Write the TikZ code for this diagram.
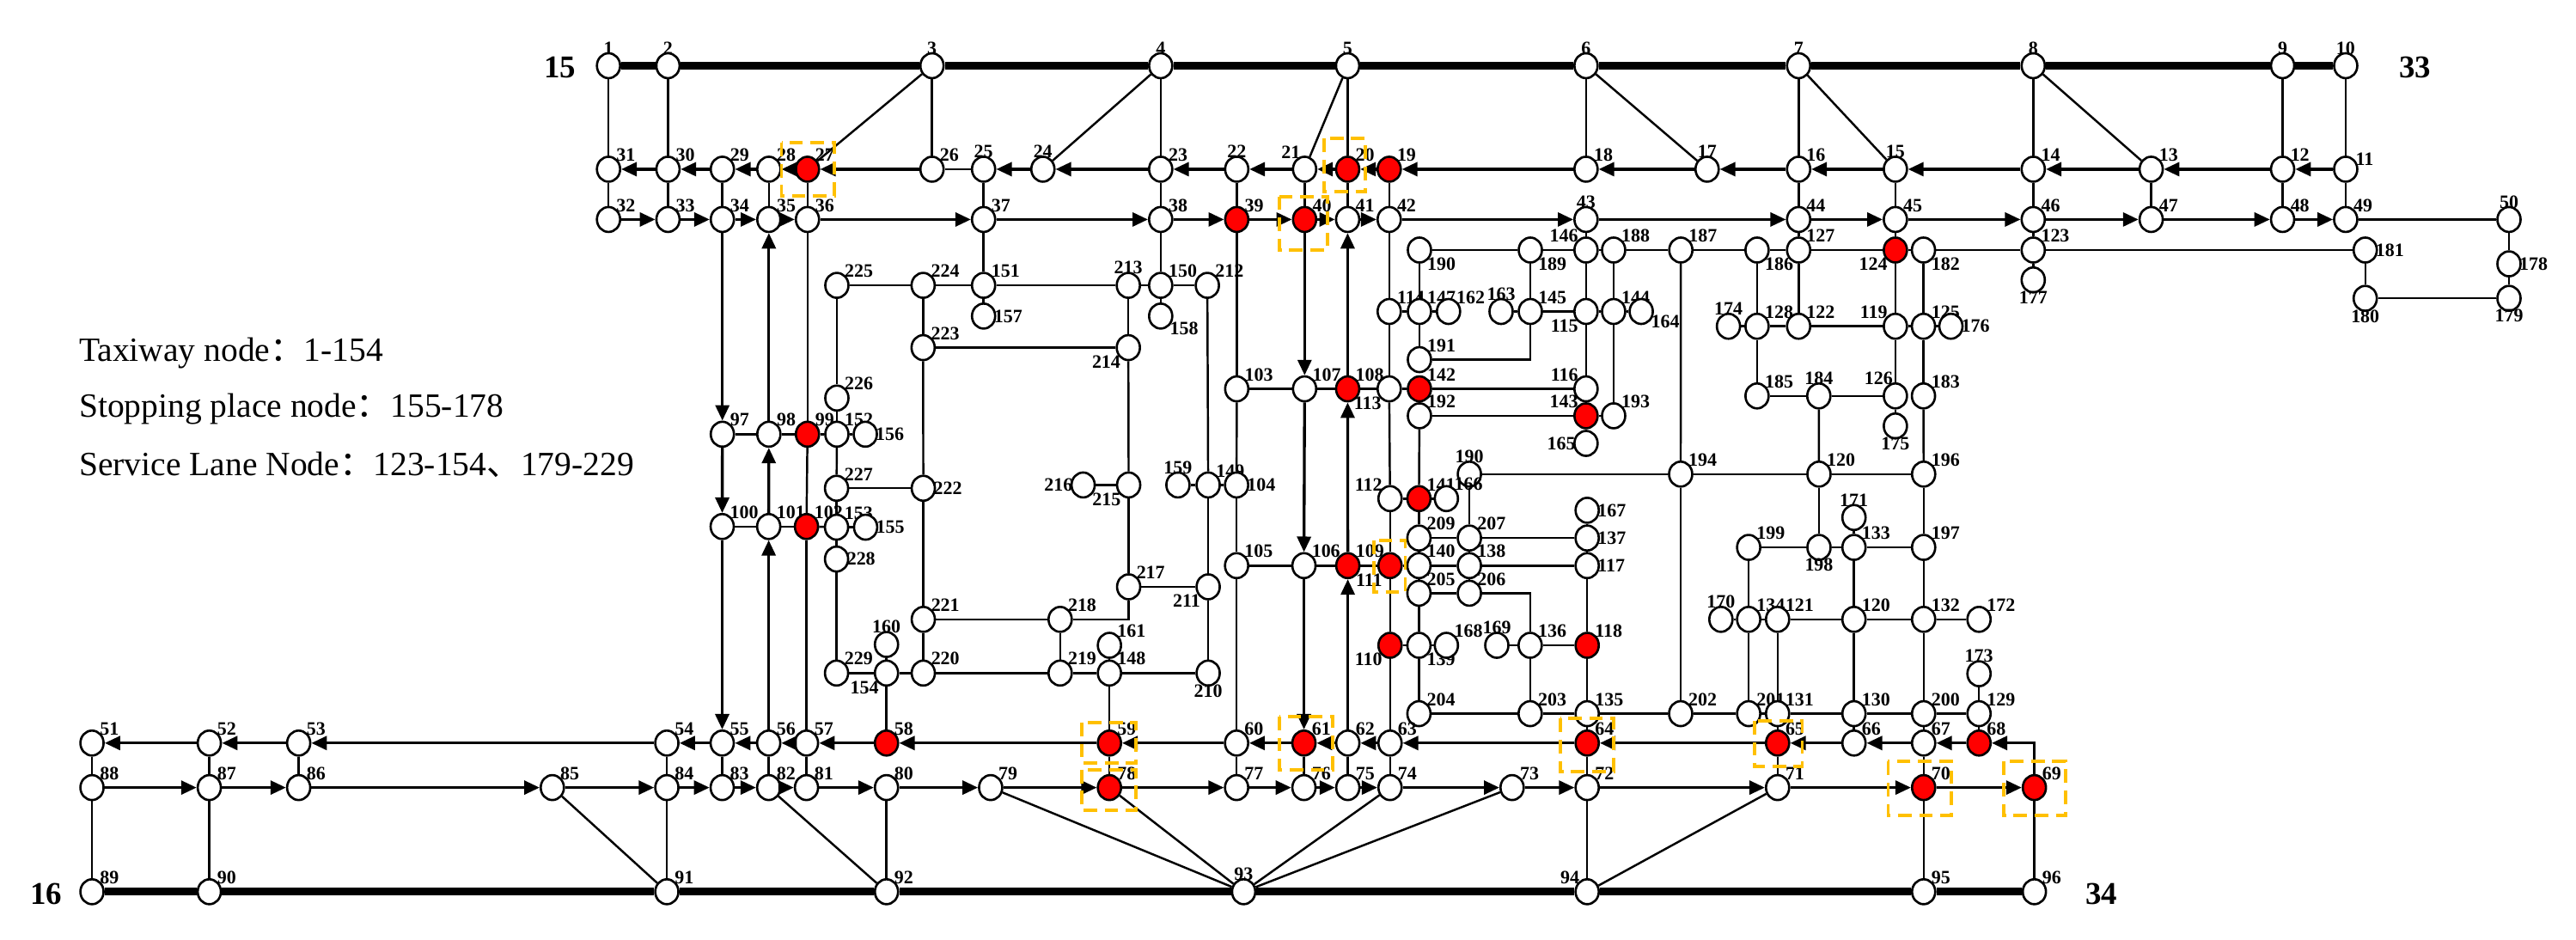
\documentclass[tikz,border=0pt]{standalone}
\usepackage{fontspec}
\setmainfont{Liberation Serif}
\newfontfamily\cjk{Noto Sans CJK SC}
\usetikzlibrary{shapes.geometric,arrows.meta}
\definecolor{boxc}{RGB}{255,192,0}
\begin{document}
\begin{tikzpicture}[x=0.038236cm,y=-0.038236cm,
 w/.style={ellipse,draw,line width=1.5pt,fill=white,minimum width=0.54cm,minimum height=0.58cm,inner sep=0pt},
 r/.style={w,fill=red},
 lb/.style={font=\bfseries\fontsize{12.5}{12.5}\selectfont,inner sep=0.3pt,label distance=-2pt},
 l/.style={line width=1.4pt},
 a/.style={line width=1.9pt,-{Triangle[length=0.36cm,width=0.32cm]}},
 rw/.style={line width=5pt},
 bx/.style={draw=boxc,line width=2.2pt,dash pattern=on 9pt off 5pt},
 big/.style={font=\bfseries\fontsize{21}{21}\selectfont},
 leg/.style={font=\fontsize{22.5}{22.5}\selectfont,anchor=west,inner sep=0pt}]
\useasboundingbox (0,0) rectangle (1568,572);
\newcommand\nd[6]{\node[#6,label={[lb]#5:#2}] (n#1) at (#3,#4) {};}
% top row
\nd{1}{1}{370.4}{40}{90}{w}\nd{2}{2}{406.6}{40}{90}{w}\nd{3}{3}{567.3}{40}{90}{w}\nd{4}{4}{706.5}{40}{90}{w}\nd{5}{5}{820.3}{40}{90}{w}
\nd{6}{6}{965.4}{40}{90}{w}\nd{7}{7}{1094.8}{40}{90}{w}\nd{8}{8}{1237.6}{40}{90}{w}\nd{9}{9}{1389.4}{40}{90}{w}\nd{10}{10}{1427.8}{40}{90}{w}
% row A
\nd{31}{31}{370.4}{103}{45}{w}\nd{30}{30}{406.6}{103}{45}{w}\nd{29}{29}{439.7}{103}{45}{w}\nd{28}{28}{468}{103}{45}{w}\nd{27}{27}{491.5}{103}{45}{r}
\nd{26}{26}{567.3}{103}{45}{w}\nd{25}{25}{598.7}{103}{90}{w}\nd{24}{24}{634.8}{103}{90}{w}\nd{23}{23}{706.5}{103}{45}{w}\nd{22}{22}{752.8}{103}{90}{w}
\nd{21}{21}{794.1}{103}{110}{w}\nd{20}{20}{820.3}{103}{45}{r}\nd{19}{19}{845.6}{103}{45}{r}\nd{18}{18}{965.4}{103}{45}{w}\nd{17}{17}{1039.1}{103}{90}{w}
\nd{16}{16}{1094.8}{103}{45}{w}\nd{15}{15}{1153.7}{103}{90}{w}\nd{14}{14}{1237.6}{103}{45}{w}\nd{13}{13}{1309.4}{103}{45}{w}\nd{12}{12}{1389.4}{103}{45}{w}\nd{11}{11}{1427.8}{103}{20}{w}
% row B
\nd{32}{32}{370.4}{133.6}{45}{w}\nd{33}{33}{406.6}{133.6}{45}{w}\nd{34}{34}{439.7}{133.6}{45}{w}\nd{35}{35}{468}{133.6}{45}{w}\nd{36}{36}{491.5}{133.6}{45}{w}
\nd{37}{37}{598.7}{133.6}{45}{w}\nd{38}{38}{706.5}{133.6}{45}{w}\nd{39}{39}{752.8}{133.6}{45}{r}\nd{40}{40}{794.1}{133.6}{45}{r}\nd{41}{41}{820.3}{133.6}{45}{w}
\nd{42}{42}{845.6}{133.6}{45}{w}\nd{43}{43}{965.4}{133.6}{90}{w}\nd{44}{44}{1094.8}{133.6}{45}{w}\nd{45}{45}{1153.7}{133.6}{45}{w}\nd{46}{46}{1237.6}{133.6}{45}{w}
\nd{47}{47}{1309.4}{133.6}{45}{w}\nd{48}{48}{1389.4}{133.6}{45}{w}\nd{49}{49}{1427.8}{133.6}{45}{w}\nd{50}{50}{1527.2}{133.6}{90}{w}
% y 152
\nd{190a}{190}{864}{152.2}{-45}{w}\nd{189}{189}{931.5}{152.2}{-45}{w}\nd{146}{146}{965.4}{152.2}{135}{w}\nd{188}{188}{982.2}{152.2}{45}{w}
\nd{187}{187}{1023.1}{152.2}{45}{w}\nd{186}{186}{1069.5}{152.2}{-45}{w}\nd{127}{127}{1094.8}{152.2}{45}{w}\nd{124}{124}{1153.7}{152.2}{-135}{r}
\nd{182}{182}{1170.8}{152.2}{-45}{w}\nd{123}{123}{1237.6}{152.2}{45}{w}\nd{181}{181}{1439.7}{152.2}{0}{w}
\nd{178}{178}{1527.2}{160.6}{0}{w}\nd{177}{177}{1237.6}{170.4}{-90}{w}\nd{180}{180}{1439.7}{181.6}{-90}{w}\nd{179}{179}{1527.2}{181.6}{-90}{w}
% 173.7
\nd{225}{225}{509.4}{173.7}{45}{w}\nd{224}{224}{561.9}{173.7}{45}{w}\nd{151}{151}{598.7}{173.7}{45}{w}\nd{213}{213}{686.8}{173.7}{90}{w}
\nd{150}{150}{706.5}{173.7}{45}{w}\nd{212}{212}{734.9}{173.7}{45}{w}
\nd{157}{157}{598.7}{192.4}{0}{w}\nd{158}{158}{706.5}{192.4}{-30}{w}
\nd{223}{223}{561.9}{211.6}{45}{w}\nd{214}{214}{686.8}{211.6}{-135}{w}
% 189.6
\nd{114}{114}{845.6}{189.6}{45}{w}\nd{147}{147}{864}{189.6}{45}{w}\nd{162}{162}{881.7}{189.6}{45}{w}\nd{163}{163}{913.7}{189.6}{90}{w}
\nd{145}{145}{931.5}{189.6}{45}{w}\nd{115}{115}{965.4}{189.6}{-135}{w}\nd{144}{144}{982.2}{189.6}{45}{w}\nd{164}{164}{999}{189.6}{-20}{w}
\nd{174}{174}{1052.1}{198.6}{90}{w}\nd{128}{128}{1069.5}{198.6}{45}{w}\nd{122}{122}{1094.8}{198.6}{45}{w}\nd{119}{119}{1153.7}{198.6}{135}{w}
\nd{125}{125}{1170.8}{198.6}{45}{w}\nd{176}{176}{1187.5}{198.6}{0}{w}
\nd{191}{191}{864}{218.9}{45}{w}
% 236.7
\nd{103}{103}{752.8}{236.7}{45}{w}\nd{107}{107}{794.1}{236.7}{45}{w}\nd{108}{108}{820.3}{236.7}{45}{r}\nd{113}{113}{845.6}{236.7}{-135}{w}
\nd{142}{142}{864}{236.7}{45}{r}\nd{116}{116}{965.4}{236.7}{135}{w}
\nd{185}{185}{1069.5}{241}{45}{w}\nd{184}{184}{1107.1}{241}{90}{w}\nd{126}{126}{1153.7}{241}{100}{w}\nd{183}{183}{1170.8}{241}{45}{w}
\nd{226}{226}{509.4}{242.3}{45}{w}
\nd{192}{192}{864}{253.1}{45}{w}\nd{143}{143}{965.4}{253.1}{135}{r}\nd{193}{193}{982.2}{253.1}{45}{w}
\nd{175}{175}{1153.7}{259.3}{-90}{w}
\nd{97}{97}{439.7}{264.3}{45}{w}\nd{98}{98}{468}{264.3}{45}{w}\nd{99}{99}{491.5}{264.3}{45}{r}\nd{152}{152}{509.4}{264.3}{45}{w}\nd{156}{156}{526.7}{264.3}{0}{w}
\nd{165}{165}{965.4}{269.9}{180}{w}
% 288
\nd{190b}{190}{894.4}{288.6}{90}{w}\nd{194}{194}{1023}{288.6}{45}{w}\nd{120a}{120}{1107.2}{288.6}{45}{w}\nd{196}{196}{1170.9}{288.6}{45}{w}
\nd{227}{227}{509.2}{297.2}{45}{w}\nd{222}{222}{562}{297.2}{0}{w}\nd{216}{216}{659.3}{295.2}{180}{w}\nd{215}{215}{687}{295.2}{-135}{w}
\nd{159}{159}{717}{295.2}{90}{w}\nd{149}{149}{735.4}{295.2}{45}{w}\nd{104}{104}{752.7}{295.2}{0}{w}
\nd{112}{112}{846.1}{303.5}{135}{w}\nd{141}{141}{863.7}{303.5}{45}{r}\nd{166}{166}{880.4}{303.5}{45}{w}
\nd{167}{167}{966.1}{310.6}{0}{w}\nd{171}{171}{1128.5}{315}{90}{w}
\nd{100}{100}{439.6}{320.5}{45}{w}\nd{101}{101}{467.9}{320.5}{45}{w}\nd{102}{102}{490.9}{320.5}{45}{r}\nd{153}{153}{509.2}{320.9}{45}{w}\nd{155}{155}{526.9}{320.9}{0}{w}
\nd{209}{209}{863.7}{327.5}{45}{w}\nd{207}{207}{894.4}{327.5}{45}{w}\nd{137}{137}{966.1}{327.5}{0}{w}
\nd{199}{199}{1064.4}{333.2}{45}{w}\nd{198}{198}{1107.2}{333.2}{-90}{w}\nd{133}{133}{1128.5}{333.2}{45}{w}\nd{197}{197}{1170.9}{333.2}{45}{w}
\nd{228}{228}{509.2}{340.3}{0}{w}
\nd{105}{105}{752.7}{344.3}{45}{w}\nd{106}{106}{793.7}{344.3}{45}{w}\nd{109}{109}{820.4}{344.3}{45}{r}\nd{111}{111}{846.1}{344.3}{-135}{r}
\nd{140}{140}{863.7}{344.3}{45}{w}\nd{138}{138}{894.4}{344.3}{45}{w}\nd{117}{117}{966.1}{344.3}{0}{w}
\nd{217}{217}{687}{357.2}{45}{w}\nd{211}{211}{735.4}{357.2}{-135}{w}\nd{205}{205}{863.7}{361.1}{45}{w}\nd{206}{206}{894.4}{361.1}{45}{w}
\nd{221}{221}{562}{377}{45}{w}\nd{218}{218}{645.3}{377}{45}{w}\nd{170}{170}{1047.5}{377}{90}{w}\nd{134}{134}{1064.4}{377}{45}{w}
\nd{121}{121}{1082}{377}{45}{w}\nd{120b}{120}{1128.5}{377}{45}{w}\nd{132}{132}{1170.9}{377}{45}{w}\nd{172}{172}{1204.6}{377}{45}{w}
\nd{160}{160}{539.6}{392.3}{90}{w}\nd{161}{161}{675.3}{392.8}{45}{w}
\nd{110}{110}{846.1}{392.8}{-135}{r}\nd{139}{139}{863.7}{392.8}{-45}{w}\nd{168}{168}{880.4}{392.8}{45}{w}\nd{169}{169}{911.1}{392.8}{90}{w}
\nd{136}{136}{931.4}{392.8}{45}{w}\nd{118}{118}{966.1}{392.8}{45}{r}
\nd{229}{229}{509.2}{409.7}{45}{w}\nd{154}{154}{539.6}{409.7}{-135}{w}\nd{220}{220}{562}{409.7}{45}{w}\nd{219}{219}{645.3}{409.7}{45}{w}
\nd{148}{148}{675.3}{409.7}{45}{w}\nd{210}{210}{735.4}{409.7}{-90}{w}\nd{173}{173}{1204.6}{410.1}{90}{w}
\nd{204}{204}{863.7}{434.4}{45}{w}\nd{203}{203}{931.4}{434.4}{45}{w}\nd{135}{135}{966.1}{434.4}{45}{w}\nd{202}{202}{1023}{434.4}{45}{w}
\nd{201}{201}{1064.4}{434.4}{45}{w}\nd{131}{131}{1082}{434.4}{45}{w}\nd{130}{130}{1128.5}{434.4}{45}{w}\nd{200}{200}{1170.9}{434.4}{45}{w}\nd{129}{129}{1204.6}{434.4}{45}{w}
% row 452
\nd{51}{51}{56}{452.3}{45}{w}\nd{52}{52}{127.4}{452.3}{45}{w}\nd{53}{53}{181.8}{452.3}{45}{w}\nd{54}{54}{405.9}{452.3}{45}{w}\nd{55}{55}{439.6}{452.3}{45}{w}
\nd{56}{56}{467.9}{452.3}{45}{w}\nd{57}{57}{490.9}{452.3}{45}{w}\nd{58}{58}{539.6}{452.3}{45}{r}\nd{59}{59}{675.3}{452.3}{45}{r}\nd{60}{60}{752.7}{452.3}{45}{w}
\nd{61}{61}{793.7}{452.3}{45}{r}\nd{62}{62}{820.4}{452.3}{45}{w}\nd{63}{63}{846.1}{452.3}{45}{w}\nd{64}{64}{966.1}{452.3}{45}{r}\nd{65}{65}{1082}{452.3}{45}{r}
\nd{66}{66}{1128.5}{452.3}{45}{w}\nd{67}{67}{1170.9}{452.3}{45}{w}\nd{68}{68}{1204.6}{452.3}{45}{r}
% row 479
\nd{88}{88}{56}{479.4}{45}{w}\nd{87}{87}{127.4}{479.4}{45}{w}\nd{86}{86}{181.8}{479.4}{45}{w}\nd{85}{85}{336.2}{479.4}{45}{w}\nd{84}{84}{405.9}{479.4}{45}{w}
\nd{83}{83}{439.6}{479.4}{45}{w}\nd{82}{82}{467.9}{479.4}{45}{w}\nd{81}{81}{490.9}{479.4}{45}{w}\nd{80}{80}{539.6}{479.4}{45}{w}\nd{79}{79}{603}{479.4}{45}{w}
\nd{78}{78}{675.3}{479.4}{45}{r}\nd{77}{77}{752.7}{479.4}{45}{w}\nd{76}{76}{793.7}{479.4}{45}{w}\nd{75}{75}{820.4}{479.4}{45}{w}\nd{74}{74}{846.1}{479.4}{45}{w}
\nd{73}{73}{920.4}{479.4}{45}{w}\nd{72}{72}{966.1}{479.4}{45}{w}\nd{71}{71}{1082}{479.4}{45}{w}\nd{70}{70}{1170.9}{479.4}{45}{r}\nd{69}{69}{1238.3}{479.4}{45}{r}
% bottom
\nd{89}{89}{56}{542.8}{45}{w}\nd{90}{90}{127.4}{542.8}{45}{w}\nd{91}{91}{405.9}{542.8}{45}{w}\nd{92}{92}{539.6}{542.8}{45}{w}
\nd{93}{93}{757}{542.8}{90}{w}\nd{94}{94}{966.1}{542.8}{135}{w}\nd{95}{95}{1170.9}{542.8}{45}{w}\nd{96}{96}{1238.3}{542.8}{45}{w}
% runways
\foreach \a/\b in {1/2,2/3,3/4,4/5,5/6,6/7,7/8,8/9,9/10,89/90,90/91,91/92,92/93,93/94,94/95,95/96} \draw[rw] (n\a)--(n\b);
% plain edges
\foreach \a/\b in {1/31,31/32,2/30,30/33,3/26,3/27,4/23,4/24,23/38,29/34,28/35,27/36,25/26,25/37,5/20,5/21,22/39,21/40,20/41,19/42,
 6/18,6/17,7/16,7/15,16/44,15/45,8/14,8/13,14/46,13/47,9/12,12/48,10/11,11/49,49/50,43/146,44/127,45/124,46/123,123/177,
 50/178,178/179,179/180,180/181,123/181,124/182,182/123,127/124,124/119,119/126,126/175,182/125,125/183,183/196,119/122,119/125,125/176,
 184/126,184/120a,120a/196,190a/189,189/146,146/188,188/187,187/186,186/127,190a/147,147/191,189/145,146/115,115/116,188/144,144/193,
 145/115,115/144,144/164,114/147,147/162,163/145,42/114,114/113,174/128,128/122,186/128,128/185,127/122,185/184,187/194,
 103/107,107/108,108/113,113/142,142/116,192/143,116/143,143/165,143/193,142/192,39/103,103/104,104/105,190b/194,194/120a,
 112/141,141/166,192/141,141/209,190b/207,209/207,207/137,137/167,105/106,106/109,109/111,111/140,140/138,138/117,209/140,140/205,
 207/138,138/206,205/206,217/211,221/218,229/154,154/220,220/219,219/148,148/210,154/160,148/161,110/139,139/168,169/136,136/118,
 205/139,139/204,204/203,203/135,136/203,135/202,118/117,117/137,118/135,63/110,110/111,111/112,112/113,
 225/224,224/151,151/213,213/150,150/212,151/37,151/157,38/150,150/158,224/223,223/222,223/214,213/214,214/215,225/226,226/152,
 97/98,98/99,99/152,152/156,36/99,99/102,102/57,152/227,227/222,227/153,100/101,101/102,102/153,153/155,153/228,228/229,222/221,
 221/220,218/219,215/216,215/217,212/149,149/159,149/104,149/211,211/210,
 51/88,88/89,52/87,87/90,53/86,54/84,84/91,85/91,55/83,56/82,57/81,82/92,80/92,58/154,79/93,78/93,74/93,73/93,59/78,59/148,
 60/77,60/105,61/76,62/75,63/74,72/94,94/71,64/72,64/135,65/71,65/131,66/130,67/200,67/70,70/95,68/129,129/173,69/96,
 194/202,202/201,201/131,131/130,130/200,200/129,120a/198,199/198,198/133,133/197,171/133,133/120b,196/197,197/132,132/200,
 170/134,134/121,121/120b,120b/132,132/172,199/134,134/201,121/131,120b/130}
 \draw[l] (n\a)--(n\b);
\draw[l] (n145) |- (n191);
\draw[l] (n206) -| (n136);
\draw[l] (n218) -| (n217);
% arrows
\foreach \a/\b in {11/12,12/13,13/14,14/15,15/16,16/17,17/18,18/19,19/20,20/21,21/22,22/23,23/24,24/25,26/27,27/28,28/29,29/30,30/31,
 32/33,33/34,34/35,35/36,36/37,37/38,38/39,39/40,40/41,41/42,42/43,43/44,44/45,45/46,46/47,47/48,48/49,
 34/97,97/100,100/55,98/35,101/98,56/101,40/107,107/106,106/61,62/109,109/108,108/41,
 68/67,67/66,66/65,65/64,64/63,63/62,62/61,61/60,60/59,59/58,58/57,57/56,56/55,55/54,54/53,53/52,52/51,
 88/87,87/86,86/85,85/84,84/83,83/82,82/81,81/80,80/79,79/78,78/77,77/76,76/75,75/74,74/73,73/72,72/71,71/70,70/69}
 \draw[a] (n\a)--(n\b);
\draw[a] (n69) |- (n68);
% dashed boxes
\draw[bx] (475.7,86.9) rectangle (507.8,119.2);
\draw[bx] (806.1,84.4) rectangle (831,116.8);
\draw[bx] (778.7,119.6) rectangle (808,152.2);
\draw[bx] (836.4,328.9) rectangle (855.4,360.5);
\draw[bx] (658.6,439.8) rectangle (691.3,464.5);
\draw[bx] (658.6,468.5) rectangle (691.3,493.3);
\draw[bx] (778.7,436.2) rectangle (811,468.5);
\draw[bx] (949.8,437.4) rectangle (982.1,469.5);
\draw[bx] (1068,438.8) rectangle (1097,466.5);
\draw[bx] (1149.3,463.6) rectangle (1187.8,496.2);
\draw[bx] (1219.6,463.6) rectangle (1257.4,496.2);
% big labels
\node[big] (t15) at (341,41) {15};
\node[big] (t33) at (1470,41) {33};
\node[big] (t16) at (28,544) {16};
\node[big] (t34) at (1279,544) {34};
% legend
\node[leg] (g1) at (48,215) {Taxiway node{\cjk ：}1-154};
\node[leg] (g2) at (48,249) {Stopping place node{\cjk ：}155-178};
\node[leg] (g3) at (48,283) {Service Lane Node{\cjk ：}123-154{\cjk 、}179-229};
\end{tikzpicture}
\end{document}
